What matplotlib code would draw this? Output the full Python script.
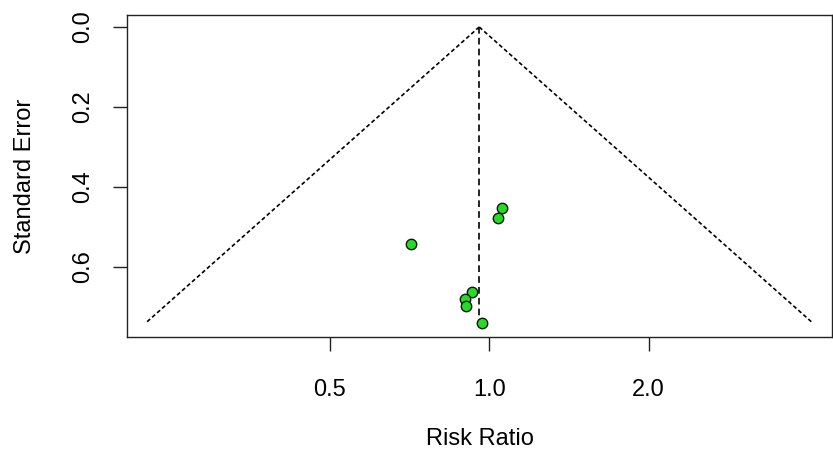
import numpy as np
import matplotlib.pyplot as plt
from matplotlib.ticker import FixedLocator, FixedFormatter, NullLocator

# ------------------------------
# Datos
# ------------------------------
risk_ratio = [0.712, 1.057, 1.037, 0.928, 0.901, 0.904, 0.970]
std_error = [0.543, 0.453, 0.477, 0.662, 0.681, 0.698, 0.740]
pooled_rr = 0.9575

x_ticks = [0.5, 1.0, 2.0]
x_labels = ["0.5", "1.0", "2.0"]
y_ticks = [0.0, 0.2, 0.4, 0.6]
y_labels = ["0.0", "0.2", "0.4", "0.6"]

plt.rcParams['font.family'] = ['Liberation Sans', 'DejaVu Sans']

fig = plt.figure(figsize=(8.33, 4.57), dpi=100)
ax = fig.add_axes([0.1525, 0.2626, 0.8463, 0.7046])

# embudo
se_max = max(std_error)
se_line = np.array([0.0, se_max])
lo = np.exp(np.log(pooled_rr) - 1.96 * se_line)
hi = np.exp(np.log(pooled_rr) + 1.96 * se_line)
ax.plot(lo, se_line, color='black', lw=1.2, linestyle=(0, (2.4, 1.6)))
ax.plot(hi, se_line, color='black', lw=1.2, linestyle=(0, (2.4, 1.6)))
ax.plot([pooled_rr, pooled_rr], se_line, color='black', lw=1.2,
        linestyle=(0, (4, 2.5)))

# estudios
ax.plot(risk_ratio, std_error, 'o', markersize=7.5, markerfacecolor='#22dd22',
        markeredgecolor='#111111', markeredgewidth=1.0, zorder=3)

ax.set_xscale('log')
ax.set_xlim(0.207, 4.44)
ax.set_ylim(0.775, -0.03)

ax.xaxis.set_major_locator(FixedLocator(x_ticks))
ax.xaxis.set_major_formatter(FixedFormatter(x_labels))
ax.xaxis.set_minor_locator(NullLocator())
ax.set_yticks(y_ticks)
ax.set_yticklabels(y_labels, rotation=90, va='center')

ax.tick_params(axis='both', direction='out', length=10, width=1,
               labelsize=17, color='#222222')
ax.tick_params(axis='x', pad=20)
ax.tick_params(axis='y', pad=14)

for s in ax.spines.values():
    s.set_linewidth(1.0)
    s.set_color('#222222')

ax.set_xlabel("Risk Ratio", fontsize=17, labelpad=20)
ax.set_ylabel("Standard Error", fontsize=17, labelpad=26)

fig.savefig("out.png", dpi=100)
